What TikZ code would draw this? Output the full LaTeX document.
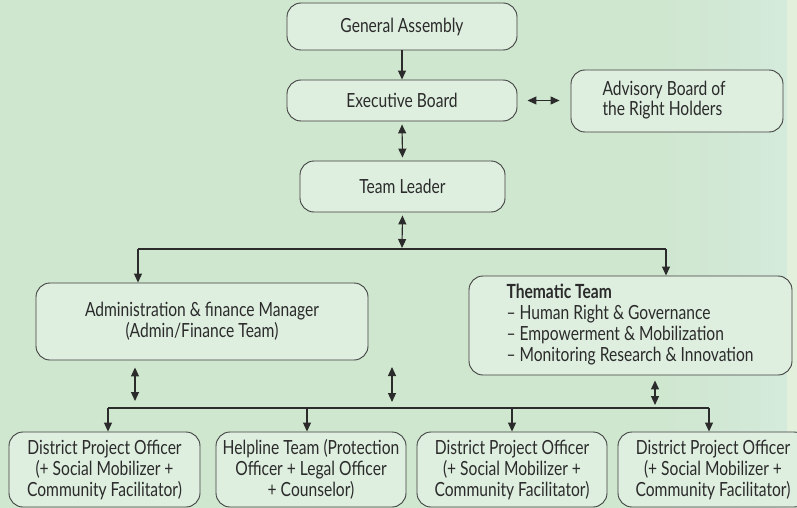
\documentclass[tikz,border=0pt]{standalone}
\usepackage{fontspec}
\setmainfont{Lato}[FakeStretch=0.8]
\usetikzlibrary{arrows.meta,calc}
\definecolor{bggreen}{HTML}{CFE6CF}
\definecolor{bgcyan}{HTML}{D4EADB}
\definecolor{bgstrip}{HTML}{E2F0DC}
\definecolor{boxfill}{HTML}{DEEEDF}
\definecolor{ink}{HTML}{2B2B2B}
\begin{document}
\begin{tikzpicture}[x=1pt,y=-1pt,
        unit/.style={draw=ink!90,fill=boxfill,rounded corners=14pt,line width=0.9pt,
                     inner sep=0pt,text=ink,font=\fontsize{19.5}{21}\selectfont},
        link/.style={line width=1.1pt,draw=ink,-{Triangle[length=9pt,width=8pt]}},
        both/.style={link,{Triangle[length=9pt,width=8pt]}-{Triangle[length=9pt,width=8pt]}}]
    \useasboundingbox (0,0) rectangle (797,508);
    % background
    \fill[bggreen] (0,0) rectangle (797,508);
    \shade[left color=bggreen,right color=bgcyan] (660,0) rectangle (787,508);
    \fill[bgstrip] (787,0) rectangle (797,508);
    % top of the chart
    \node[unit,minimum width=230pt,minimum height=47pt] (GA) at (402,26.5) {General Assembly};
    \node[unit,minimum width=230pt,minimum height=41pt] (EB) at (402,100.5) {Executive Board};
    \node[unit,minimum width=212pt,minimum height=62pt] (AB) at (677,101) {};
    \node[text=ink,font=\fontsize{19.5}{20}\selectfont,align=left,anchor=west] (ABt) at (599,100) {Advisory Board of\\the Right Holders};
    \node[unit,minimum width=205pt,minimum height=51pt] (TL) at (402.5,186.5) {Team Leader};
    % middle level
    \node[unit,minimum width=332pt,minimum height=77pt,align=center] (AF) at (202,321.5)
        {Administration \& finance Manager\\(Admin/Finance Team)};
    \node[unit,minimum width=323pt,minimum height=99pt] (TT) at (630.5,325.5) {};
    \node[text=ink,font=\fontsize{19.5}{21}\selectfont,align=left,anchor=west] (TTt) at (503,325)
        {\textbf{Thematic Team}\\-- Human Right \& Governance\\-- Empowerment \& Mobilization\\-- Monitoring Research \& Innovation};
    % bottom row
    \node[unit,minimum width=191pt,minimum height=75pt,align=center] (D1) at (104.5,469.5)
        {District Project Officer\\(+ Social Mobilizer +\\Community Facilitator)};
    \node[unit,minimum width=190pt,minimum height=75pt,align=center] (HT) at (311,469.5)
        {Helpline Team (Protection\\Officer + Legal Officer\\+ Counselor)};
    \node[unit,minimum width=190pt,minimum height=75pt,align=center] (D2) at (512,469.5)
        {District Project Officer\\(+ Social Mobilizer +\\Community Facilitator)};
    \node[unit,minimum width=190pt,minimum height=75pt,align=center] (D3) at (713,469.5)
        {District Project Officer\\(+ Social Mobilizer +\\Community Facilitator)};
    % bus lines
    \coordinate (bus1) at (402,249);
    \coordinate (bus2) at (392,408);
    \coordinate (mid1) at (392,367);
    % connectors
    \draw[link] (GA.south) -- (EB.north);
    \draw[both,shorten <=3pt,shorten >=3pt] (EB.south) -- (TL.north);
    \draw[both,shorten <=10pt,shorten >=11pt] (EB.east) -- (AB.west |- EB.east);
    \draw[both,shorten <=3pt,shorten >=1pt] (TL.south) -- (bus1);
    \draw[line width=1.1pt,draw=ink] (138,249) -- (666,249);
    \draw[link] (138,249) -- (AF.north -| 138,0);
    \draw[link] (666,249) -- (TT.north -| 666,0);
    \draw[both,shorten <=7pt,shorten >=7pt] (AF.south -| 135,0) -- (135,408);
    \draw[both,shorten >=6pt] (mid1) -- (bus2);
    \draw[both,shorten <=5pt,shorten >=3pt] (TT.south -| 655,0) -- (655,408);
    \draw[line width=1.1pt,draw=ink] (108,408) -- (709,408);
    \draw[link] (108,408) -- (D1.north -| 108,0);
    \draw[link] (307,408) -- (HT.north -| 307,0);
    \draw[link] (512,408) -- (D2.north);
    \draw[link] (709,408) -- (D3.north -| 709,0);
\end{tikzpicture}
\end{document}
